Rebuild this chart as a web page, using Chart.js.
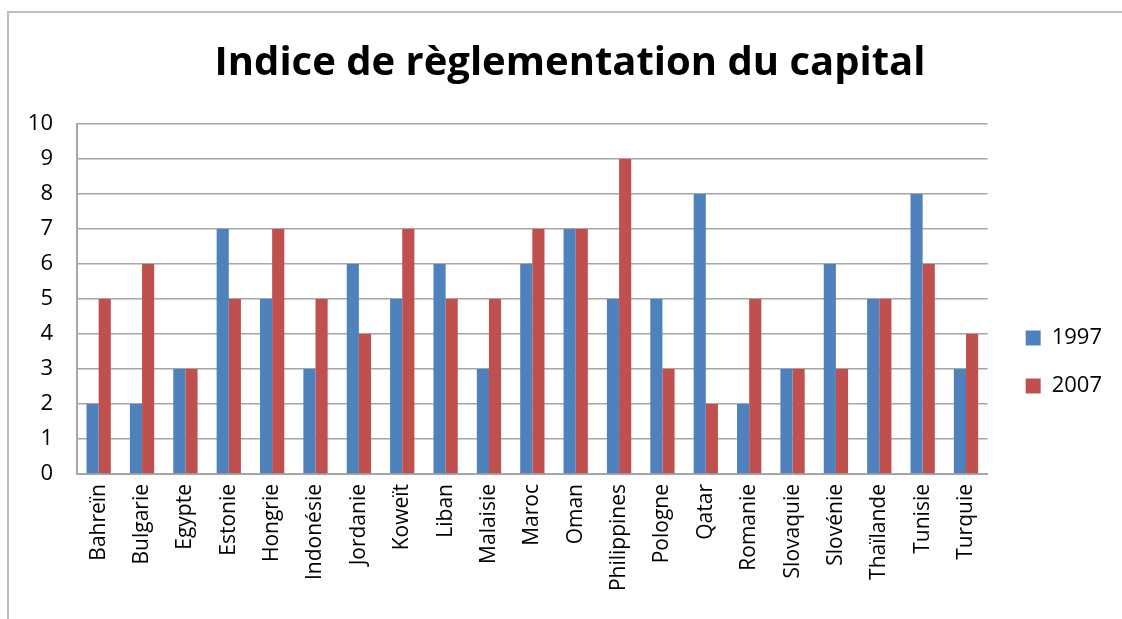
<!DOCTYPE html>
<html>
<head>
<meta charset="utf-8">
<script src="https://cdn.jsdelivr.net/npm/chart.js@4/dist/chart.umd.min.js"></script>
<style>
  html, body { margin: 0; padding: 0; background: #fff; }
  #frame { position: absolute; left: 7px; top: 11px; width: 1120px; height: 620px;
           border-top: 2px solid #BDBDBD; border-left: 2px solid #BDBDBD; }
  #wrap { position: absolute; left: 0; top: 0; width: 1122px; height: 619px; }
</style>
</head>
<body>
<div id="frame"></div>
<div id="wrap"><canvas id="chart"></canvas></div>
<script>
// ===== Indice de règlementation du capital =====
const countries = ['Bahreïn', 'Bulgarie', 'Egypte', 'Estonie', 'Hongrie', 'Indonésie', 'Jordanie',
  'Koweït', 'Liban', 'Malaisie', 'Maroc', 'Oman', 'Philippines', 'Pologne', 'Qatar', 'Romanie',
  'Slovaquie', 'Slovénie', 'Thaïlande', 'Tunisie', 'Turquie'];
const values1997 = [2, 2, 3, 7, 5, 3, 6, 5, 6, 3, 6, 7, 5, 5, 8, 2, 3, 6, 5, 8, 3];
const values2007 = [5, 6, 3, 5, 7, 5, 4, 7, 5, 5, 7, 7, 9, 3, 2, 5, 3, 3, 5, 6, 4];
const yTicks = [0, 1, 2, 3, 4, 5, 6, 7, 8, 9, 10];

const FONT = "'Open Sans', 'Liberation Sans', sans-serif";
const gridColor = '#A6A6A6';

// small offsets so title and legend sit where the original has them
const nudge = {
  id: 'nudge',
  afterLayout(chart) {
    const lg = chart.legend;
    if (lg) { lg.left += 12; lg.right += 12; }
    const tb = chart.titleBlock;
    if (tb) { tb.left += 16; tb.right += 16; }
  }
};

new Chart(document.getElementById('chart'), {
  type: 'bar',
  data: {
    labels: countries,
    datasets: [
      { label: '1997', data: values1997, backgroundColor: '#4F81BD', borderWidth: 0,
        categoryPercentage: 0.56, barPercentage: 1 },
      { label: '2007', data: values2007, backgroundColor: '#C0504D', borderWidth: 0,
        categoryPercentage: 0.56, barPercentage: 1 }
    ]
  },
  options: {
    responsive: true,
    maintainAspectRatio: false,
    animation: false,
    layout: { padding: { top: 28, right: 22, left: 8, bottom: 0 } },
    plugins: {
      title: {
        display: true,
        text: 'Indice de règlementation du capital',
        color: '#000',
        font: { family: FONT, size: 40, weight: 'bold' },
        padding: { top: 12, bottom: 36 }
      },
      legend: {
        position: 'right',
        title: { display: true, text: ' ', font: { size: 1 }, padding: { top: 38, bottom: 38 } },
        labels: {
          color: '#000',
          font: { family: FONT, size: 22 },
          boxWidth: 15, boxHeight: 15,
          padding: 26
        }
      },
      tooltip: { enabled: false }
    },
    scales: {
      x: {
        grid: { display: false, drawTicks: false },
        border: { color: gridColor, width: 2 },
        ticks: { color: '#000', font: { family: FONT, size: 21 }, maxRotation: 90, minRotation: 90, padding: 10, autoSkip: false },
        afterFit: (scale) => { scale.height = 145; }
      },
      y: {
        min: 0, max: 10,
        afterBuildTicks: (axis) => { axis.ticks = yTicks.map(v => ({ value: v })); },
        grid: { color: gridColor, lineWidth: 1.5, drawTicks: false },
        border: { color: gridColor, width: 2 },
        ticks: { color: '#000', font: { family: FONT, size: 22 }, padding: 24 },
        afterFit: (scale) => { scale.width = 69; }
      }
    }
  },
  plugins: [nudge]
});
</script>
</body>
</html>
